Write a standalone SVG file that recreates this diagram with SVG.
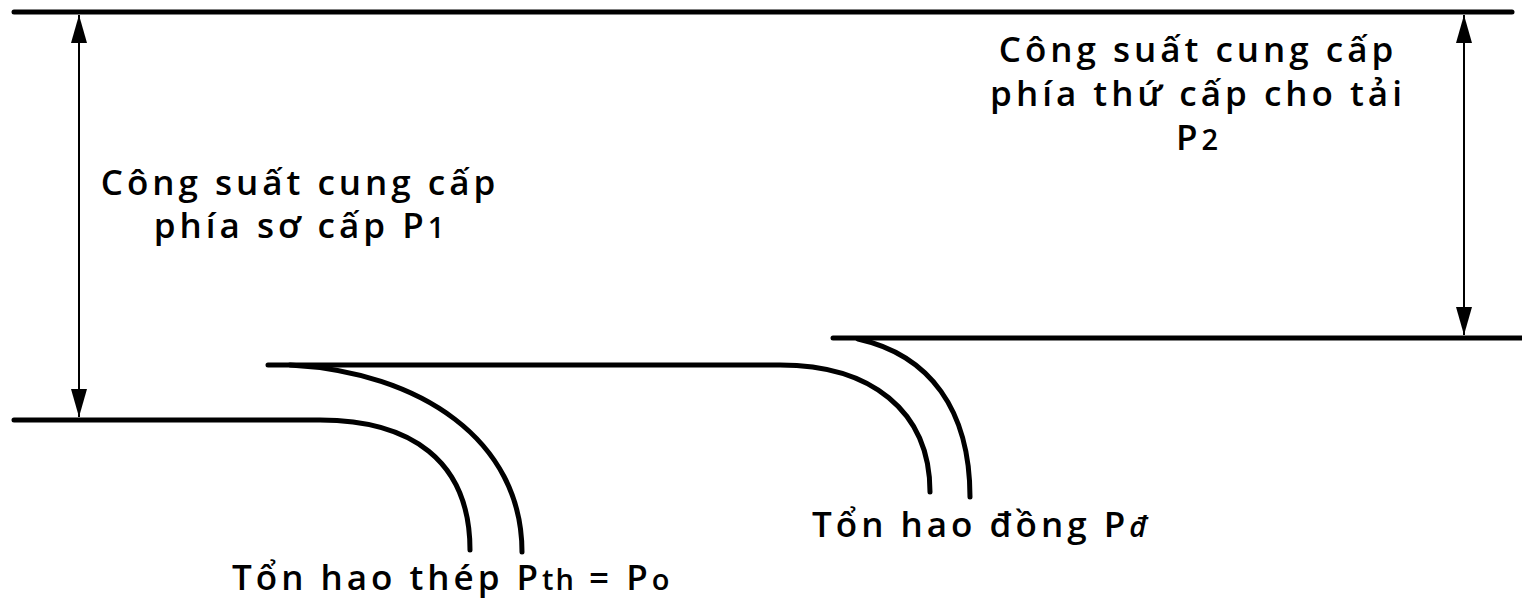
<svg xmlns="http://www.w3.org/2000/svg" width="1522" height="600" viewBox="0 0 1522 600">
<defs>
<marker id="arr" viewBox="0 0 28 16" refX="28" refY="8" markerWidth="28" markerHeight="16" markerUnits="userSpaceOnUse" orient="auto-start-reverse">
<path d="M0,0 L28,8 L0,16 Z" fill="#000"/>
</marker>
</defs>
<style>
.thick{fill:none;stroke:#000;stroke-width:5;stroke-linecap:round}
.dim{fill:none;stroke:#000;stroke-width:2}
.t{font-family:"Open Sans","Noto Sans",sans-serif;font-weight:600;font-size:35px;fill:#000;letter-spacing:4px}
.s{font-size:29px;letter-spacing:2px}
</style>
<rect width="1522" height="600" fill="#fff"/>
<g id="flows">
<path class="thick" d="M14,12 L1512,12"/>
<path class="thick" d="M14,420 L320,420 C410,420 470,460 470,550"/>
<path class="thick" d="M268,365 L780,365 C870,365 930,410 930,492"/>
<path class="thick" d="M290,365 C420,372 522,440 522,552"/>
<path class="thick" d="M833,338 L1522,338"/>
<path class="thick" d="M858,339 C930,355 970,410 970,497"/>
</g>
<g id="connectors">
<path class="dim" d="M79,15 L79,417" marker-start="url(#arr)" marker-end="url(#arr)"/>
<path class="dim" d="M1464,15 L1464,335" marker-start="url(#arr)" marker-end="url(#arr)"/>
</g>
<g id="label-p1">
<text class="t" x="300" y="195" text-anchor="middle">Công suất cung cấp</text>
<text class="t" x="300" y="238" text-anchor="middle">phía sơ cấp P<tspan class="s">1</tspan></text>
</g>
<g id="label-p2">
<text class="t" x="1198" y="62" text-anchor="middle">Công suất cung cấp</text>
<text class="t" x="1198" y="106" text-anchor="middle">phía thứ cấp cho tải</text>
<text class="t" x="1198" y="150" text-anchor="middle">P<tspan class="s">2</tspan></text>
</g>
<g id="label-pth">
<text class="t" x="232" y="590">Tổn hao thép P<tspan class="s">th</tspan> = P<tspan class="s">o</tspan></text>
</g>
<g id="label-pd">
<text class="t" x="812" y="537">Tổn hao đồng P<tspan class="s" font-style="italic">đ</tspan></text>
</g>
</svg>
